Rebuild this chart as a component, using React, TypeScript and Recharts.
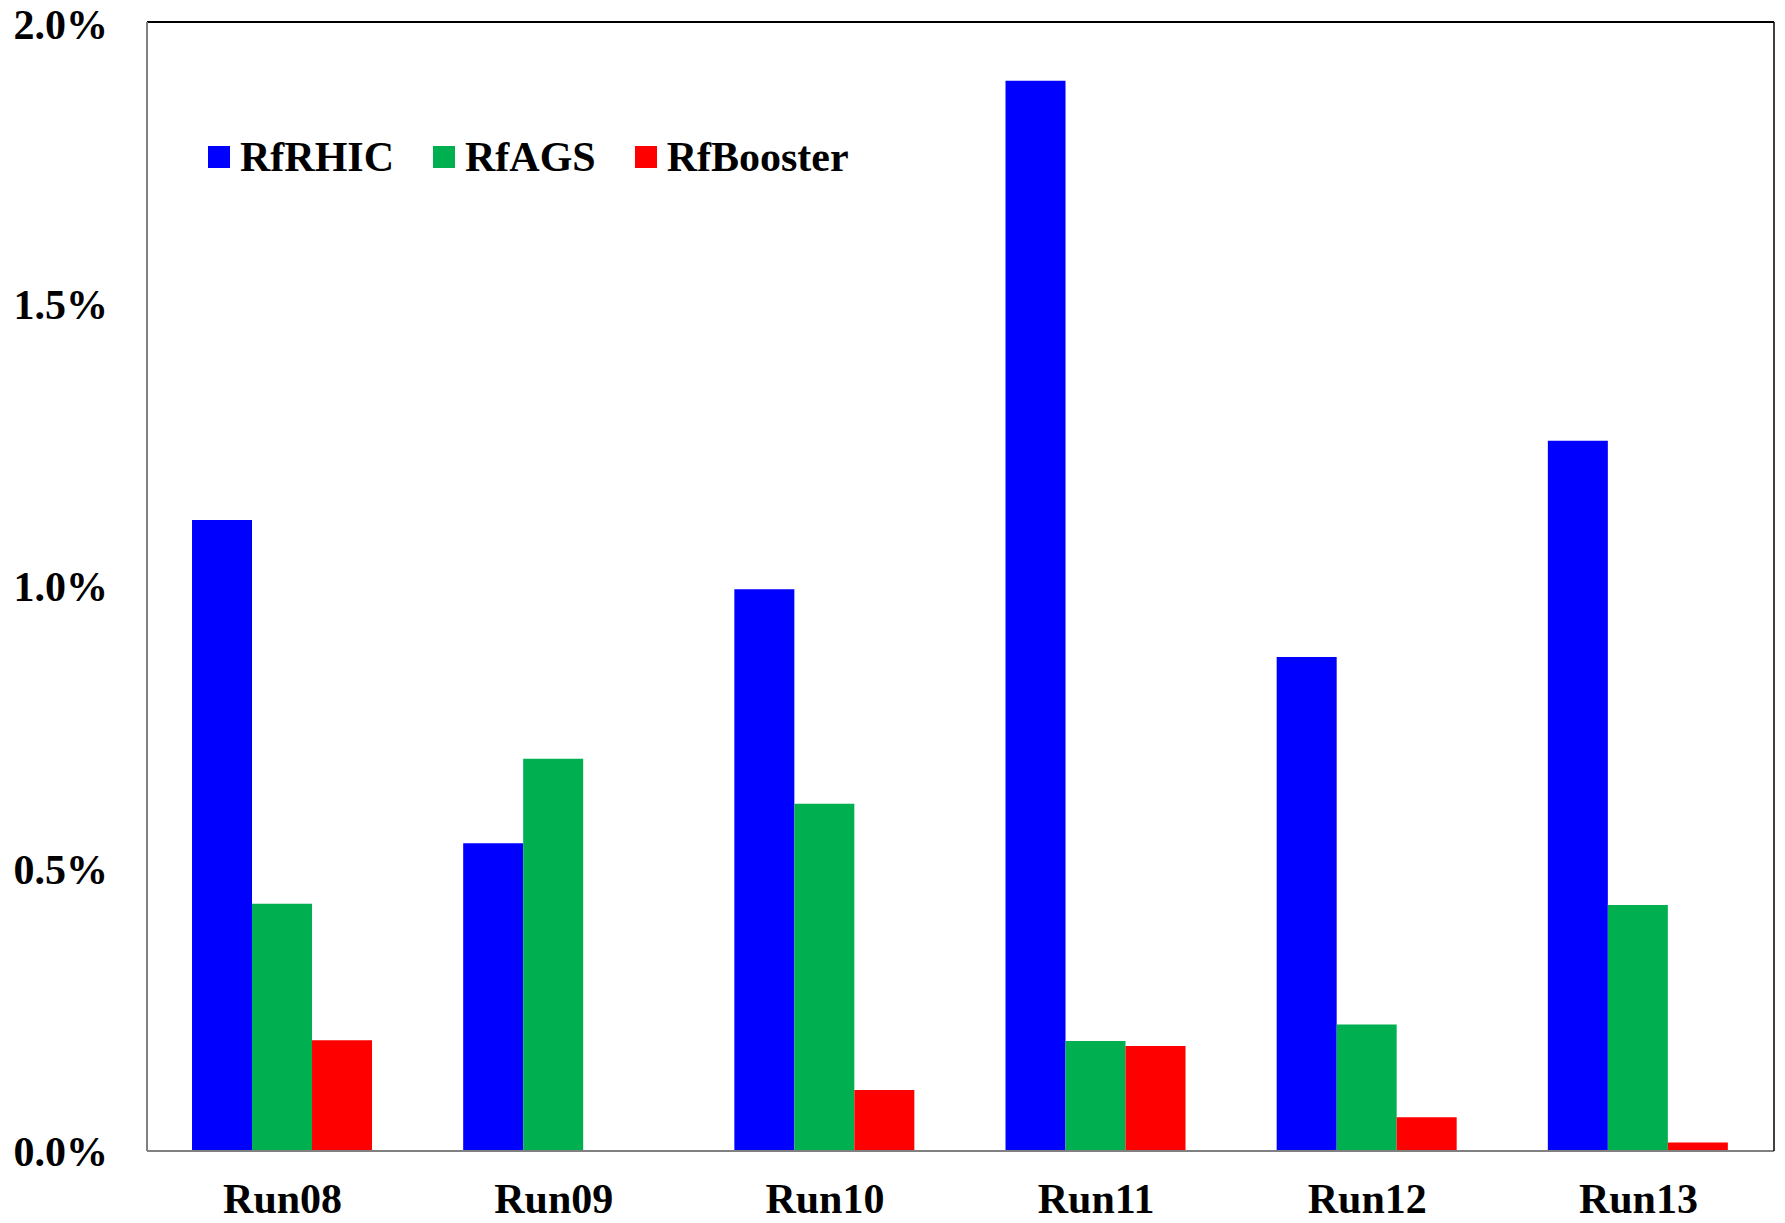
import React from "react";
import {
  Bar,
  BarChart,
  CartesianGrid,
  ReferenceLine,
  XAxis,
  YAxis,
} from "recharts";

const categories = ["Run08", "Run09", "Run10", "Run11", "Run12", "Run13"];
const rfRHIC = [1.118, 0.545, 0.995, 1.896, 0.875, 1.258];
const rfAGS = [0.438, 0.695, 0.615, 0.195, 0.224, 0.436];
const rfBooster = [0.196, 0, 0.108, 0.186, 0.06, 0.015];
const yTicks = [0, 0.5, 1, 1.5, 2];

const series = [
  { key: "RfRHIC", color: "#0000FF" },
  { key: "RfAGS", color: "#00B050" },
  { key: "RfBooster", color: "#FF0000" },
];

const data = categories.map((run, i) => ({
  run,
  RfRHIC: rfRHIC[i],
  RfAGS: rfAGS[i],
  RfBooster: rfBooster[i],
}));

const font = "'Liberation Serif', 'Times New Roman', serif";
const tickStyle = { fill: "#000", fontSize: 42, fontWeight: "bold", fontFamily: font };

const App = () => {
  return (
    <div style={{ position: "absolute", left: 0, top: 0, width: 1785, height: 1223, background: "#fff" }}>
      <BarChart
        width={1785}
        height={1223}
        data={data}
        margin={{ top: 22, right: 0, left: 0, bottom: 0 }}
        barCategoryGap="16.6%"
        barGap={0}
      >
        <CartesianGrid vertical={false} stroke="#808080" strokeWidth={1.5} />
        <XAxis
          dataKey="run"
          height={72}
          tickSize={0}
          tickMargin={32}
          axisLine={{ stroke: "#808080", strokeWidth: 2 }}
          tickLine={false}
          tick={tickStyle}
        />
        <YAxis
          yAxisId="l"
          width={147}
          domain={[0, 2]}
          ticks={yTicks}
          tickFormatter={(v: number) => v.toFixed(1) + "%"}
          tickSize={0}
          tickMargin={39}
          axisLine={{ stroke: "#808080", strokeWidth: 2 }}
          tickLine={false}
          tick={tickStyle}
        />
        <YAxis
          yAxisId="r"
          orientation="right"
          width={11}
          domain={[0, 2]}
          tick={false}
          tickLine={false}
          axisLine={{ stroke: "#000", strokeWidth: 1.5 }}
        />
        <ReferenceLine yAxisId="l" y={2} stroke="#000" strokeWidth={2} />
        {series.map((s) => (
          <Bar key={s.key} yAxisId="l" dataKey={s.key} fill={s.color} isAnimationActive={false} />
        ))}
      </BarChart>
      <div
        style={{
          position: "absolute",
          left: 208,
          top: 157,
          transform: "translateY(-50%)",
          display: "flex",
          alignItems: "center",
          fontFamily: font,
          fontWeight: "bold",
          fontSize: 42,
          color: "#000",
          whiteSpace: "nowrap",
        }}
      >
        {series.map((s) => (
          <div key={s.key} style={{ display: "flex", alignItems: "center", marginRight: 39 }}>
            <span style={{ display: "inline-block", width: 22, height: 22, background: s.color, marginRight: 10 }} />
            <span>{s.key}</span>
          </div>
        ))}
      </div>
    </div>
  );
};

export default App;
